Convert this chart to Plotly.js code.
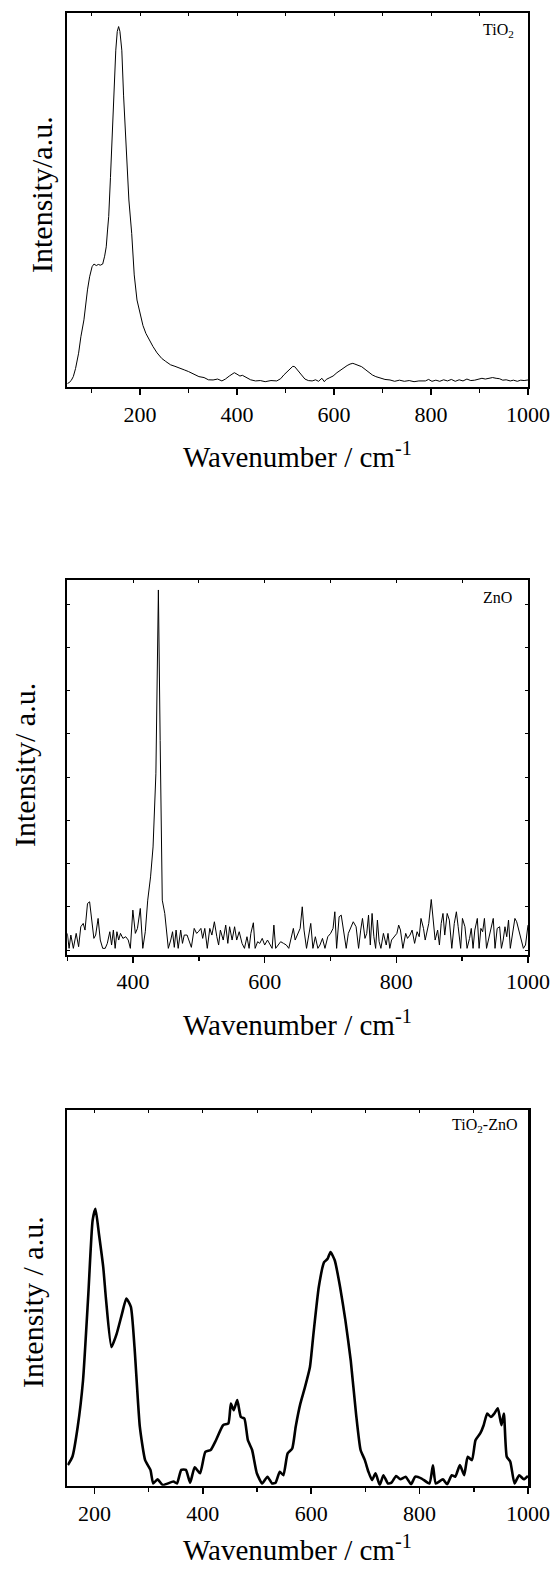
<!DOCTYPE html>
<html><head><meta charset="utf-8">
<script src="https://cdn.plot.ly/plotly-3.0.1.min.js"></script>
<style>html,body{margin:0;padding:0;background:#fff}#chart{width:557px;height:1570px}</style>
</head><body><div id="chart"></div>
<script>
// ---------- DATA ----------
const tio2Wn = [
 50, 53.6, 58, 62.4, 67, 73.3, 78, 84.3, 91.6, 96,
 101.1, 105, 109.8, 114, 118, 123, 127, 130.3, 133, 135.4,
 139, 142.7, 146, 150, 153, 155.8, 158.5, 162.4, 166, 171.8,
 177, 182.8, 188, 193.7, 201, 206, 212, 219, 226.6, 235,
 244.8, 253, 263, 272, 282, 292.2, 300, 310, 321.4, 332,
 341, 350.6, 360, 368.8, 376, 384, 390, 394.4, 400, 406,
 411, 416.3, 422, 428, 438.1, 448, 458, 470, 481.9, 490,
 496.5, 503, 510, 515, 519, 524, 529, 533, 540, 547,
 554.9, 562, 568, 575, 580, 584, 590, 598, 606, 613.3,
 620, 627, 633, 638.8, 643, 648, 652, 657, 664, 672,
 679, 686.2, 695, 705, 715.4, 725, 735, 745, 755, 765,
 775, 788.4, 795, 802, 810, 818, 826, 834, 842, 850,
 858, 866, 874, 882, 890, 898, 905, 912, 920, 927,
 934.3, 941, 948, 955, 963.5, 970, 978, 985, 992, 1000];
const tio2Int = [
 1.0, 1.25, 1.8, 2.85, 5, 9.1, 13.5, 18, 26, 29.5,
 32.2, 32.9, 32.5, 32.8, 32.6, 32.9, 35, 37.5, 42, 45.6,
 56, 67.8, 80, 90, 95, 96.3, 95, 90, 78, 63.3,
 50, 41.1, 30, 23.3, 18.9, 16.5, 14.4, 12.5, 10.9, 9.2,
 7.7, 6.9, 6.0, 5.6, 5.0, 4.6, 4.2, 3.6, 2.85, 2.6,
 2.0, 1.96, 2.2, 1.7, 2.2, 3.0, 3.6, 3.9, 3.5, 3.0,
 3.2, 2.85, 2.3, 2.0, 1.7, 1.8, 1.5, 1.8, 1.7, 2.3,
 3.3, 4.2, 5.2, 5.6, 5.5, 4.6, 3.8, 3.3, 2.2, 1.8,
 1.7, 2.0, 1.6, 2.4, 1.5, 2.1, 2.5, 3.0, 3.9, 4.6,
 5.2, 5.8, 6.2, 6.4, 6.2, 5.9, 5.8, 5.5, 4.8, 4.0,
 3.3, 2.85, 2.5, 2.1, 1.96, 1.6, 1.9, 1.6, 1.8, 1.5,
 1.7, 1.7, 2.1, 1.6, 1.9, 1.6, 2.0, 1.7, 2.1, 1.6,
 2.0, 1.7, 2.2, 1.8, 1.9, 2.2, 2.4, 2.2, 2.5, 2.6,
 2.4, 2.3, 1.9, 2.0, 1.7, 1.9, 1.6, 1.9, 1.8, 1.96];

const znoWn = [
 300.0, 302.7, 305.4, 309.2, 313.5, 317.2, 320.5, 324.2, 326.9, 330.7,
 333.9, 337.7, 340.4, 343.1, 346.8, 350.1, 353.8, 357.6, 360.8, 364.6,
 367.3, 370.0, 372.7, 375.4, 378.1, 380.8, 384.5, 388.8, 392.6, 395.8,
 399.6, 403.4, 406.6, 410.9, 414.7, 418.5, 422.2, 426.5, 430.3, 434.6,
 438.4, 441.1, 444.3, 448.1, 450.8, 453.5, 457.2, 459.9, 462.6, 465.3,
 468.5, 472.3, 475.0, 477.7, 482.0, 485.8, 488.5, 492.8, 496.5, 499.2,
 503.0, 505.7, 508.9, 512.7, 516.5, 519.7, 523.5, 527.2, 529.9, 532.6,
 536.9, 540.7, 543.9, 546.6, 550.4, 554.2, 557.4, 561.2, 565.5, 569.2,
 573.0, 576.2, 578.9, 582.7, 585.4, 589.2, 592.4, 596.2, 599.9, 604.2,
 608.0, 611.2, 613.9, 616.6, 620.4, 624.2, 628.5, 632.8, 636.5, 640.3,
 643.5, 646.2, 650.0, 653.8, 657.0, 659.7, 663.5, 666.2, 669.9, 673.2,
 676.9, 680.7, 683.9, 687.7, 691.5, 695.8, 700.1, 703.8, 706.5, 709.2,
 713.0, 716.2, 720.0, 723.8, 727.0, 730.8, 734.5, 738.8, 742.6, 745.8,
 748.5, 752.3, 755.0, 757.7, 760.4, 763.1, 765.8, 768.5, 771.2, 773.8,
 776.5, 780.3, 784.6, 787.3, 790.0, 792.7, 797.0, 800.8, 803.5, 806.2,
 809.9, 814.2, 816.9, 820.7, 823.9, 827.7, 831.5, 834.7, 837.4, 841.2,
 843.8, 849.2, 853.0, 855.7, 858.9, 862.7, 865.4, 868.1, 870.8, 873.5,
 877.2, 880.5, 884.2, 888.0, 891.2, 893.9, 897.7, 900.4, 904.2, 907.4,
 911.2, 913.8, 916.5, 919.2, 923.0, 925.7, 928.4, 931.1, 933.8, 937.0,
 940.8, 944.5, 947.2, 949.9, 953.2, 956.9, 959.6, 962.3, 965.0, 967.7,
 970.4, 973.1, 976.8, 980.1, 982.8, 986.5, 989.2, 993.0, 996.2, 1000.0];
const znoInt = [
 65, 20, 60, 20, 65, 25, 85, 95, 75, 155,
 160, 95, 50, 60, 110, 45, 20, 20, 35, 70,
 30, 75, 20, 70, 45, 65, 50, 55, 45, 20,
 135, 65, 80, 140, 20, 70, 165, 235, 325, 545,
 1098, 645, 165, 125, 80, 20, 45, 70, 23, 75,
 20, 75, 35, 60, 60, 35, 23, 80, 65, 70,
 80, 50, 80, 20, 80, 60, 100, 55, 30, 75,
 45, 90, 35, 85, 45, 85, 45, 70, 35, 20,
 55, 20, 65, 97, 20, 40, 35, 50, 30, 45,
 30, 20, 90, 20, 30, 40, 35, 30, 20, 55,
 80, 45, 65, 80, 145, 75, 20, 55, 95, 20,
 55, 20, 30, 50, 20, 55, 65, 80, 130, 20,
 115, 120, 65, 20, 65, 85, 100, 85, 20, 75,
 110, 50, 65, 120, 30, 125, 55, 20, 105, 40,
 20, 65, 30, 65, 20, 45, 55, 65, 90, 75,
 20, 65, 50, 60, 75, 35, 70, 55, 110, 80,
 45, 95, 167, 115, 45, 75, 30, 95, 125, 60,
 125, 105, 20, 95, 130, 85, 20, 110, 85, 20,
 50, 80, 20, 75, 110, 20, 80, 70, 110, 20,
 55, 85, 110, 20, 80, 85, 20, 45, 85, 55,
 105, 20, 75, 110, 100, 70, 50, 20, 30, 90];

const mixWn = [
 151, 159.4, 169.2, 179, 188.8, 196.7, 202, 208.4, 216.3, 221.6,
 231.4, 241.2, 251, 258.9, 267.3, 274, 283.8, 293.6, 303.4, 308.5,
 316.4, 326.2, 345.8, 352.4, 360.3, 368.8, 376.6, 385, 394.9, 404.7,
 414.5, 424.3, 437.4, 447.2, 451.8, 457, 463.6, 470.2, 476.7, 483.2,
 491, 499.7, 509.5, 519.3, 527.7, 534.2, 542, 548.7, 556.5, 565,
 571.4, 580.1, 587.9, 597.7, 604.2, 614, 623.8, 630.3, 635.6, 643.4,
 653.3, 663.1, 672.9, 682.7, 691.1, 699, 705.6, 712.2, 718.7, 726.5,
 733.2, 741.6, 748.1, 756.7, 764.5, 774.3, 784.2, 792, 803.8, 818.1,
 824.6, 829.9, 843, 850.8, 859.3, 865.8, 874.4, 882.2, 888.8, 896.6,
 903.1, 911.8, 918.2, 924.7, 931.4, 937.8, 944.3, 951, 955.5, 960.8,
 967.3, 975.1, 983.6, 992.2, 1000];
const mixInt = [
 5.5, 7.7, 15.7, 28, 51, 70.6, 73.7, 67, 58.2, 49.3,
 36.9, 40.5, 45.8, 49.8, 47.6, 36.9, 15.7, 6.8, 4.2, 0.6,
 1.7, 0.2, 1.1, 0.6, 4.2, 4.2, 0.8, 4.9, 3.3, 9,
 9.5, 12.1, 16.1, 16.6, 21.9, 20.1, 22.8, 18.3, 17.9, 12.1,
 9.5, 3.3, 0.6, 2.4, 0.6, 0.8, 3.7, 2.8, 8.6, 9.9,
 15.7, 21.9, 25.9, 31.6, 40.5, 52.9, 59.5, 60.4, 62.2, 60,
 52.9, 44, 33.4, 19.2, 9.5, 6.8, 3.7, 1.5, 3.3, 0.2,
 2.8, 0.6, 0.8, 2.6, 1.7, 2.4, 0.4, 2.4, 1.9, 0.6,
 5.4, 0.6, 1.7, 0.4, 2.8, 2.4, 5.5, 2.8, 7.7, 6.8,
 12.1, 13.9, 16.1, 19.2, 18.3, 19.2, 20.6, 16.1, 19.2, 7.7,
 6.4, 0.6, 2.8, 1.7, 2.6];

const sampleLabels = ['TiO<sub>2</sub>', 'ZnO', 'TiO<sub>2</sub>-ZnO'];
const xTitle = 'Wavenumber / cm<sup>-1</sup>';
const yTitles = ['Intensity/a.u.', 'Intensity/ a.u.', 'Intensity / a.u.'];

// ---------- LAYOUT ----------
const W = 557, H = 1570;
const fx = v => v / W, fy = v => 1 - v / H;
const boxes = [
  {l: 67.3, r: 528, t: 12.7, b: 387.3, xr: [50, 1000], yr: [0, 100]},
  {l: 67.3, r: 528, t: 580, b: 955, xr: [300, 1000], yr: [0, 1128]},
  {l: 67.3, r: 528, t: 1110, b: 1485.7, xr: [150, 1000], yr: [0, 100]}
];
const FONT = 'Liberation Serif';

function xAxis(i, yname) {
  const b = boxes[i];
  return {
    domain: [fx(b.l), fx(b.r)], range: b.xr, anchor: yname,
    showline: true, linewidth: i === 2 ? 2.5 : 2, linecolor: '#000', mirror: true,
    ticks: 'outside', ticklen: 6, tickwidth: 1.5, tickcolor: '#000',
    tick0: 0, dtick: 200,
    minor: {tick0: 0, dtick: 100, ticks: 'outside', ticklen: 3.5, tickwidth: 1.5, tickcolor: '#000', showgrid: false},
    tickfont: {family: FONT, size: 22, color: '#000'},
    showgrid: false, zeroline: false, fixedrange: true
  };
}
function yAxis(i, xname) {
  const b = boxes[i];
  const a = {
    domain: [fy(b.b), fy(b.t)], range: b.yr, anchor: xname,
    showline: true, linewidth: i === 2 ? 2.5 : 2, linecolor: '#000', mirror: true,
    ticks: '', showticklabels: false, showgrid: false, zeroline: false, fixedrange: true
  };
  if (i === 1) {
    Object.assign(a, {ticks: 'inside', ticklen: 3, tickwidth: 1, tickcolor: '#000', tick0: 145, dtick: 130, mirror: 'ticks'});
  }
  return a;
}
function topAxis(i, base, yname) {
  return {
    overlaying: base, side: 'top', anchor: yname, range: boxes[i].xr,
    ticks: 'inside', ticklen: 3, tickwidth: 1, tickcolor: '#000', tick0: 0, dtick: 100,
    showticklabels: false, showline: false, showgrid: false, zeroline: false, fixedrange: true
  };
}

const traces = [
  {x: tio2Wn, y: tio2Int, xaxis: 'x', yaxis: 'y', mode: 'lines', line: {color: '#000', width: 1}, hoverinfo: 'skip'},
  {x: znoWn, y: znoInt, xaxis: 'x2', yaxis: 'y2', mode: 'lines', line: {color: '#000', width: 1}, hoverinfo: 'skip'},
  {x: mixWn, y: mixInt, xaxis: 'x3', yaxis: 'y3', mode: 'lines', line: {color: '#000', width: 2.6, shape: 'spline', smoothing: 0.5}, hoverinfo: 'skip'},
  {x: [], y: [], xaxis: 'x4', yaxis: 'y', mode: 'lines', hoverinfo: 'skip'},
  {x: [], y: [], xaxis: 'x5', yaxis: 'y2', mode: 'lines', hoverinfo: 'skip'},
  {x: [], y: [], xaxis: 'x6', yaxis: 'y3', mode: 'lines', hoverinfo: 'skip'}
];

const xTitleY = [455, 1023, 1548];
const yTitleX = [42, 24, 32];
const yTitleY = [195, 765, 1302];
const labelPos = [{x: 516, y: 31}, {x: 514, y: 597}, {x: 519, y: 1125}];

const annotations = [];
for (let i = 0; i < 3; i++) {
  const b = boxes[i];
  annotations.push({xref: 'paper', yref: 'paper', x: fx((b.l + b.r) / 2), y: fy(xTitleY[i]),
    xanchor: 'center', yanchor: 'middle', showarrow: false, text: xTitle,
    font: {family: FONT, size: 29, color: '#000'}});
  annotations.push({xref: 'paper', yref: 'paper', x: fx(yTitleX[i]), y: fy(yTitleY[i]),
    xanchor: 'center', yanchor: 'middle', showarrow: false, text: yTitles[i], textangle: -90,
    font: {family: FONT, size: 30, color: '#000'}});
  annotations.push({xref: 'paper', yref: 'paper', x: fx(labelPos[i].x), y: fy(labelPos[i].y),
    xanchor: 'right', yanchor: 'middle', showarrow: false, text: sampleLabels[i],
    font: {family: FONT, size: 16, color: '#000'}});
}

const layout = {
  width: W, height: H, margin: {l: 0, r: 0, t: 0, b: 0},
  paper_bgcolor: '#fff', plot_bgcolor: '#fff', showlegend: false,
  font: {family: FONT, color: '#000'},
  xaxis: xAxis(0, 'y'), yaxis: yAxis(0, 'x'),
  xaxis2: xAxis(1, 'y2'), yaxis2: yAxis(1, 'x2'),
  xaxis3: xAxis(2, 'y3'), yaxis3: yAxis(2, 'x3'),
  xaxis4: topAxis(0, 'x', 'y'), xaxis5: topAxis(1, 'x2', 'y2'), xaxis6: topAxis(2, 'x3', 'y3'),
  annotations: annotations
};

Plotly.newPlot('chart', traces, layout, {staticPlot: true, displayModeBar: false});
</script></body></html>
